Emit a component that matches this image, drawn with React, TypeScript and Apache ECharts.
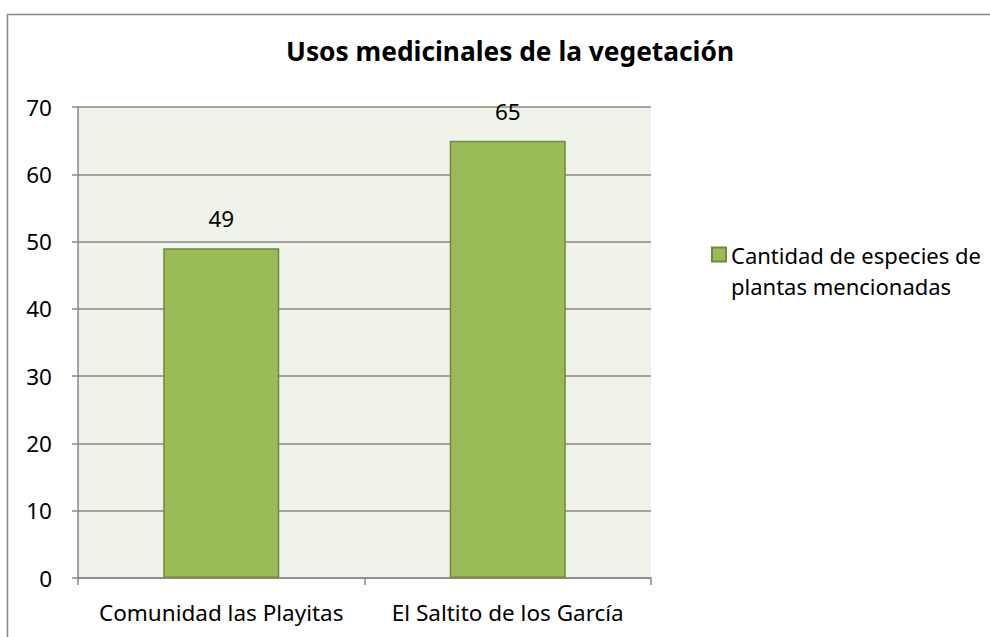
import React, { useEffect, useRef } from "react";
import * as echarts from "echarts";

const title = "Usos medicinales de la vegetación";
const categories = ["Comunidad las Playitas", "El Saltito de los García"];
const seriesName = "Cantidad de especies de plantas mencionadas";
const legendLines = ["Cantidad de especies de", "plantas mencionadas"];
const values = [49, 65];
const yMin = 0;
const yMax = 70;
const yInterval = 10;

const FONT = "Noto Sans";

export default function App() {
  const ref = useRef<HTMLDivElement>(null);
  useEffect(() => {
    if (!ref.current) return;
    const chart = echarts.init(ref.current, undefined, { renderer: "svg" });
    chart.setOption({
      animation: false,
      backgroundColor: "#ffffff",
      title: {
        text: title,
        left: 505,
        top: 33,
        textAlign: "center",
        textStyle: { fontFamily: FONT, fontWeight: "bold", fontSize: 26.3, color: "#000" },
      },
      graphic: [
        {
          type: "rect",
          z: -10,
          silent: true,
          shape: { x: 7.5, y: 14.5, width: 1100, height: 800 },
          style: { fill: "none", stroke: "#888888", lineWidth: 1.5 },
        },
      ],
      legend: {
        left: 706,
        top: 203,
        orient: "vertical",
        icon: "rect",
        itemWidth: 14,
        itemHeight: 14,
        itemGap: 6,
        data: [seriesName],
        formatter: () => " \n" + legendLines.join("\n"),
        textStyle: {
          fontFamily: FONT,
          fontSize: 22,
          color: "#000",
          lineHeight: 31,
        },
      },
      grid: { left: 78, top: 107, right: 339, bottom: 59, show: true, backgroundColor: "#eff2e8", borderWidth: 0 },
      xAxis: {
        type: "category",
        data: categories,
        axisLine: { show: true, lineStyle: { color: "#888888", width: 1.5 } },
        axisTick: { show: true, length: 7, alignWithLabel: false, lineStyle: { color: "#888888", width: 1.5 } },
        axisLabel: { fontFamily: FONT, fontSize: 22.5, color: "#000", margin: 23, interval: 0 },
      },
      yAxis: {
        type: "value",
        min: yMin,
        max: yMax,
        interval: yInterval,
        axisLine: { show: true, lineStyle: { color: "#888888", width: 1.5 } },
        axisTick: { show: true, length: 6, lineStyle: { color: "#888888", width: 1.5 } },
        axisLabel: { fontFamily: FONT, fontSize: 22.5, color: "#000", margin: 26 },
        splitLine: { show: true, lineStyle: { color: "#888888", width: 1.5 } },
      },
      series: [
        {
          name: seriesName,
          type: "bar",
          data: values,
          barWidth: "40.5%",
          itemStyle: { color: "#9bbb59", borderColor: "#71893f", borderWidth: 1.5 },
          label: {
            show: true,
            position: "top",
            distance: 18,
            fontFamily: FONT,
            fontSize: 22.5,
            color: "#000",
          },
        },
      ],
    });
    return () => chart.dispose();
  }, []);
  return <div ref={ref} style={{ width: 990, height: 637, position: "absolute", left: 0, top: 0 }} />;
}
